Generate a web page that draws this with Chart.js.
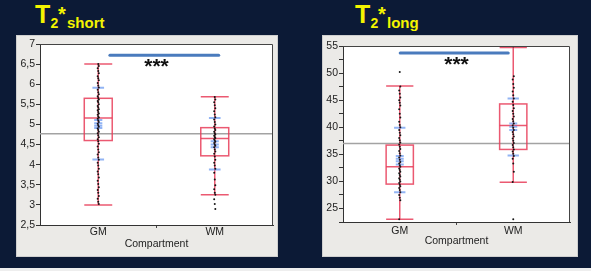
<!DOCTYPE html>
<html><head><meta charset="utf-8">
<script src="https://cdn.jsdelivr.net/npm/chart.js@4/dist/chart.umd.min.js"></script>
<style>
html,body{margin:0;padding:0;}
body{background:#0c1a36;width:591px;height:271px;overflow:hidden;position:relative;font-family:"Liberation Sans",Arial,sans-serif;}
.panel{position:absolute;}
.t{position:absolute;color:#f4f400;font-weight:bold;line-height:1;white-space:nowrap;}
#strip{position:absolute;left:0;top:268px;width:591px;height:3px;background:#eeeeee;}
</style></head><body>
<div class="t" style="left:35px;top:2px;font-size:25px">T</div>
<div class="t" style="left:50.5px;top:16px;font-size:14px">2</div>
<div class="t" style="left:58px;top:4px;font-size:20px">*</div>
<div class="t" style="left:67px;top:15px;font-size:15px">short</div>
<div class="t" style="left:355px;top:2px;font-size:25px">T</div>
<div class="t" style="left:370.5px;top:16px;font-size:14px">2</div>
<div class="t" style="left:378px;top:4px;font-size:20px">*</div>
<div class="t" style="left:387px;top:15px;font-size:15px">long</div>
<div class="panel" style="left:16px;top:35px;width:262px;height:222px"><canvas id="c1"></canvas></div>
<div class="panel" style="left:322px;top:35px;width:256px;height:222px"><canvas id="c2"></canvas></div>
<div id="strip"></div>
<script>
const categories = ['GM', 'WM'];
const xTicks = [-0.5, 0, 0.5, 1, 1.5];

// ---- T2* short ----
const shortGM = [6.50, 6.45, 6.40, 6.33, 6.27, 6.20, 6.15, 6.10, 6.03, 5.97, 5.92, 5.86, 5.80, 5.75, 5.70, 5.66,
  5.62, 5.58, 5.55, 5.50, 5.46, 5.42, 5.38, 5.35, 5.31, 5.27, 5.24, 5.20, 5.17, 5.14, 5.10, 5.06, 5.02, 4.98,
  4.94, 4.90, 4.86, 4.82, 4.78, 4.73, 4.68, 4.63, 4.58, 4.52, 4.45, 4.38, 4.31, 4.25, 4.18, 4.12, 4.05, 3.98,
  3.90, 3.83, 3.76, 3.68, 3.60, 3.52, 3.44, 3.37, 3.30, 3.22, 3.15, 3.08, 3.02];
const shortWM = [5.68, 5.62, 5.55, 5.48, 5.40, 5.33, 5.25, 5.18, 5.12, 5.06, 5.00, 4.95, 4.90, 4.86, 4.82, 4.78,
  4.75, 4.72, 4.69, 4.66, 4.63, 4.60, 4.57, 4.54, 4.50, 4.47, 4.43, 4.38, 4.33, 4.27, 4.20, 4.12, 4.05, 3.98,
  3.90, 3.80, 3.63, 3.49, 3.39, 3.30, 3.25, 3.14, 3.02, 2.90];
const shortWhiskerLow = [3.00, 3.25];
const shortQ1 = [4.60, 4.22];
const shortMedian = [5.16, 4.65];
const shortQ3 = [5.65, 4.92];
const shortWhiskerHigh = [6.50, 5.69];
const shortQuantileMarks = [[5.91, 4.13], [5.16, 3.88]];
const shortMeanMarks = [[5.11, 5.03, 4.97, 4.91], [4.58, 4.50, 4.43]];
const shortGrandMean = 4.77;
const shortSignif = 6.72;
const shortYTicks = [2.5, 3, 3.5, 4, 4.5, 5, 5.5, 6, 6.5, 7];
const shortYLabels = ['2,5', '3', '3,5', '4', '4,5', '5', '5,5', '6', '6,5', '7'];

// ---- T2* long ----
const longGM = [50.2, 47.5, 46.8, 46.2, 45.5, 45.0, 44.5, 44.0, 43.3, 42.5, 41.8, 41.0, 40.4, 40.0, 39.5, 39.0,
  38.5, 38.0, 37.6, 37.2, 36.8, 36.4, 36.0, 35.6, 35.2, 34.8, 34.4, 34.0, 33.6, 33.3, 33.0, 32.7, 32.4, 32.1,
  31.8, 31.5, 31.2, 30.9, 30.6, 30.3, 30.0, 29.7, 29.4, 29.1, 28.8, 28.4, 28.0, 27.5, 27.0, 26.5, 23.0];
const longWM = [54.9, 49.4, 48.8, 48.0, 47.3, 46.6, 45.9, 45.3, 44.7, 44.1, 43.5, 43.0, 42.5, 42.0, 41.5, 41.1,
  40.7, 40.3, 39.9, 39.5, 39.1, 38.7, 38.3, 37.9, 37.5, 37.1, 36.7, 36.3, 35.9, 35.5, 35.1, 34.7, 34.2, 33.3,
  31.8, 29.9, 23.0];
const longWhiskerLow = [23.0, 29.85];
const longQ1 = [29.5, 35.9];
const longMedian = [32.7, 40.3];
const longQ3 = [36.7, 44.3];
const longWhiskerHigh = [47.6, 54.7];
const longQuantileMarks = [[39.9, 28.0], [45.3, 34.8]];
const longMeanMarks = [[34.7, 34.2, 33.7, 33.1], [40.7, 40.1, 39.5]];
const longGrandMean = 37.0;
const longSignif = 53.7;
const longYTicks = [22.5, 25, 27.5, 30, 32.5, 35, 37.5, 40, 42.5, 45, 47.5, 50, 52.5, 55];
const longYLabels = ['', '25', '', '30', '', '35', '', '40', '', '45', '', '50', '', '55'];

// ---- drawing helpers ----
const jitter = [0, 0.005, -0.005];
function points(vals, idx) { return vals.map((v, i) => ({x: idx + jitter[i % jitter.length], y: v})); }

const boxPlugin = {
  id: 'boxes',
  beforeDraw(chart) {
    const {ctx, width, height, chartArea: a} = chart;
    ctx.save();
    ctx.fillStyle = '#ebeae7'; ctx.fillRect(0, 0, width, height);
    ctx.strokeStyle = '#cfcfcf'; ctx.lineWidth = 1; ctx.strokeRect(0.5, 0.5, width - 1, height - 1);
    ctx.fillStyle = '#ffffff'; ctx.fillRect(a.left, a.top, a.right - a.left, a.bottom - a.top);
    ctx.restore();
  },
  beforeDatasetsDraw(chart, args, o) {
    const {ctx, chartArea: a} = chart;
    const xs = chart.scales.x, ys = chart.scales.y;
    ctx.save();
    ctx.strokeStyle = '#a3a3a3'; ctx.lineWidth = 1.5;
    const gy = ys.getPixelForValue(o.grand);
    ctx.beginPath(); ctx.moveTo(a.left, gy); ctx.lineTo(a.right, gy); ctx.stroke();
    const hw = 0.12;
    for (let i = 0; i < categories.length; i++) {
      const xc = xs.getPixelForValue(i), xl = xs.getPixelForValue(i - hw), xr = xs.getPixelForValue(i + hw);
      const p = v => ys.getPixelForValue(v);
      ctx.strokeStyle = 'rgba(232,60,88,0.85)'; ctx.lineWidth = 1.5;
      ctx.beginPath();
      ctx.moveTo(xc, p(o.low[i])); ctx.lineTo(xc, p(o.high[i]));
      ctx.moveTo(xl, p(o.low[i])); ctx.lineTo(xr, p(o.low[i]));
      ctx.moveTo(xl, p(o.high[i])); ctx.lineTo(xr, p(o.high[i]));
      ctx.moveTo(xl, p(o.med[i])); ctx.lineTo(xr, p(o.med[i]));
      ctx.stroke();
      ctx.strokeRect(xl, p(o.q3[i]), xr - xl, p(o.q1[i]) - p(o.q3[i]));
      ctx.strokeStyle = 'rgba(110,155,240,0.75)'; ctx.lineWidth = 2;
      ctx.beginPath();
      o.quant[i].forEach(v => { ctx.moveTo(xs.getPixelForValue(i - 0.05), p(v)); ctx.lineTo(xs.getPixelForValue(i + 0.05), p(v)); });
      o.mean[i].forEach(v => { ctx.moveTo(xs.getPixelForValue(i - 0.035), p(v)); ctx.lineTo(xs.getPixelForValue(i + 0.035), p(v)); });
      ctx.stroke();
    }
    ctx.restore();
  },
  afterDatasetsDraw(chart, args, o) {
    const {ctx, chartArea: a} = chart;
    const xs = chart.scales.x, ys = chart.scales.y;
    ctx.save();
    ctx.strokeStyle = '#444'; ctx.lineWidth = 1;
    ctx.beginPath();
    ctx.moveTo(a.left, a.top + 0.5); ctx.lineTo(a.right - 0.5, a.top + 0.5); ctx.lineTo(a.right - 0.5, a.bottom);
    ctx.stroke();
    const sy = ys.getPixelForValue(o.sig);
    ctx.strokeStyle = '#4a7bbd'; ctx.lineWidth = 3; ctx.lineCap = 'round';
    ctx.beginPath(); ctx.moveTo(xs.getPixelForValue(o.sigX[0]), sy); ctx.lineTo(xs.getPixelForValue(o.sigX[1]), sy); ctx.stroke();
    ctx.fillStyle = '#111'; ctx.font = 'bold 21px "Liberation Sans", Arial, sans-serif';
    ctx.textAlign = 'center'; ctx.textBaseline = 'alphabetic';
    ctx.fillText('***', xs.getPixelForValue(0.5), sy + 18);
    ctx.restore();
  }
};

function makeChart(id, gm, wm, stats, yTicks, yLabels, yMin, yMax, pad, yWidth, xHeight, xPad, titlePad) {
  const font = {family: '"Liberation Sans", Arial, sans-serif', size: 10.5};
  return new Chart(document.getElementById(id), {
    type: 'scatter',
    data: {datasets: [
      {data: points(gm, 0), pointRadius: 1, pointBackgroundColor: '#151515', pointBorderWidth: 0},
      {data: points(wm, 1), pointRadius: 1, pointBackgroundColor: '#151515', pointBorderWidth: 0}
    ]},
    options: {
      responsive: true, maintainAspectRatio: false, animation: false, devicePixelRatio: 1,
      layout: {padding: pad},
      plugins: {legend: {display: false}, tooltip: {enabled: false}, title: {display: false}, boxes: stats},
      scales: {
        x: {
          type: 'linear', min: -0.5, max: 1.5,
          afterBuildTicks: s => { s.ticks = xTicks.map(v => ({value: v})); },
          afterFit: s => { s.height = xHeight; },
          grid: {drawOnChartArea: false, drawTicks: true, tickLength: 3,
                 tickColor: c => (c.tick && c.tick.value === 0.5) ? '#444' : 'rgba(0,0,0,0)'},
          border: {color: '#333', width: 1},
          ticks: {autoSkip: false, maxRotation: 0, padding: xPad, color: '#222', font,
                  callback: v => (v === 0 || v === 1) ? categories[v] : ''},
          title: {display: true, text: 'Compartment', color: '#222', font, padding: {top: 0, bottom: titlePad}}
        },
        y: {
          min: yMin, max: yMax,
          afterBuildTicks: s => { s.ticks = yTicks.map(v => ({value: v})); },
          afterFit: s => { s.width = yWidth; },
          grid: {drawOnChartArea: false, drawTicks: true, tickLength: 4, tickColor: '#333'},
          border: {color: '#333', width: 1},
          ticks: {autoSkip: false, padding: 1, color: '#222', font,
                  callback: (v) => yLabels[yTicks.indexOf(v)] ?? ''}
        }
      }
    },
    plugins: [boxPlugin]
  });
}

makeChart('c1', shortGM, shortWM,
  {low: shortWhiskerLow, q1: shortQ1, med: shortMedian, q3: shortQ3, high: shortWhiskerHigh,
   quant: shortQuantileMarks, mean: shortMeanMarks, grand: shortGrandMean, sig: shortSignif, sigX: [0.10, 1.034]},
  shortYTicks, shortYLabels, 2.5, 7, {left: 0, right: 5, top: 9, bottom: 0}, 24, 32, -2, 7);
makeChart('c2', longGM, longWM,
  {low: longWhiskerLow, q1: longQ1, med: longMedian, q3: longQ3, high: longWhiskerHigh,
   quant: longQuantileMarks, mean: longMeanMarks, grand: longGrandMean, sig: longSignif, sigX: [0.004, 0.956]},
  longYTicks, longYLabels, 22.5, 55, {left: 0, right: 8, top: 11, bottom: 0}, 21, 35, 0, 10);
</script>
</body></html>
